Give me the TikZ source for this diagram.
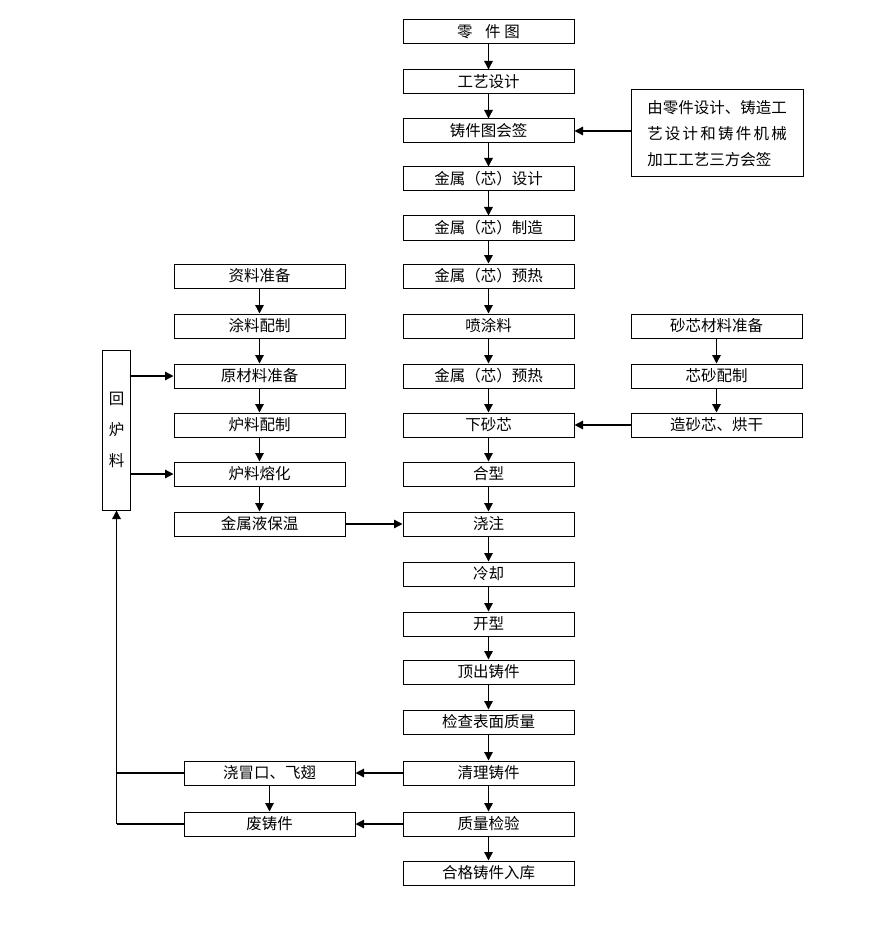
\documentclass[tikz,border=0pt]{standalone}
\usepackage{fontspec}
\newfontfamily\cjk{Noto Sans CJK SC}
\usetikzlibrary{arrows.meta}

\begin{document}
\begin{tikzpicture}[x=1pt,y=-1pt,
    box/.style={draw, line width=1pt, minimum width=171pt, minimum height=24pt, inner sep=0pt,
      font=\cjk\fontsize{15.5}{18}\selectfont},
    arr/.style={line width=1.3pt, -{Triangle[length=8.5pt,width=8.5pt]}},
    ln/.style={line width=1.3pt}]

        \useasboundingbox (0,0) rectangle (873,925);

        % main column
        \node[box] (m1) at (488.5,32) {零\hspace{0.8em}件\hspace{0.25em}图};
        \node[box] (m2) at (488.5,82) {工艺设计};
        \node[box] (m3) at (488.5,131) {铸件图会签};
        \node[box] (m4) at (488.5,179) {金属（芯）设计};
        \node[box] (m5) at (488.5,228) {金属（芯）制造};
        \node[box] (m6) at (488.5,276) {金属（芯）预热};
        \node[box] (m7) at (488.5,326) {喷涂料};
        \node[box] (m8) at (488.5,376) {金属（芯）预热};
        \node[box] (m9) at (488.5,425) {下砂芯};
        \node[box] (m10) at (488.5,474) {合型};
        \node[box] (m11) at (488.5,524) {浇注};
        \node[box] (m12) at (488.5,574) {冷却};
        \node[box] (m13) at (488.5,624) {开型};
        \node[box] (m14) at (488.5,672) {顶出铸件};
        \node[box] (m15) at (488.5,722) {检查表面质量};
        \node[box] (m16) at (488.5,773) {清理铸件};
        \node[box] (m17) at (488.5,824) {质量检验};
        \node[box] (m18) at (488.5,873) {合格铸件入库};
        \foreach \i [evaluate=\i as \j using int(\i+1)] in {1,...,17}
            \draw[arr] (m\i) -- (m\j);

        % sign-off note
        \node[draw, line width=1pt, minimum width=172pt, minimum height=87pt, inner sep=0pt,
          font=\cjk\fontsize{15.5}{26}\selectfont, align=left] (note) at (717,133.5)
          {由零件设计、铸造工\\\makebox[9em][s]{艺\hfil 设\hfil 计\hfil 和\hfil 铸\hfil 件\hfil 机\hfil 械}\\加工工艺三方会签};
        \draw[arr] (note.west |- m3) -- (m3.east);

        % left column
        \node[box] (l1) at (259.5,276) {资料准备};
        \node[box] (l2) at (259.5,326) {涂料配制};
        \node[box] (l3) at (259.5,376) {原材料准备};
        \node[box] (l4) at (259.5,425) {炉料配制};
        \node[box] (l5) at (259.5,474) {炉料熔化};
        \node[box] (l6) at (259.5,524) {金属液保温};
        \foreach \i [evaluate=\i as \j using int(\i+1)] in {1,...,5}
            \draw[arr] (l\i) -- (l\j);
        \draw[arr] (l6.east) -- (m11.west);

        % sand core column
        \node[box] (r1) at (716.5,326) {砂芯材料准备};
        \node[box] (r2) at (716.5,376) {芯砂配制};
        \node[box] (r3) at (716.5,425) {造砂芯、烘干};
        \draw[arr] (r1) -- (r2);
        \draw[arr] (r2) -- (r3);
        \draw[arr] (r3.west) -- (m9.east);

        % return material
        \node[draw, line width=1pt, minimum width=28pt, minimum height=160pt, inner sep=0pt,
          font=\cjk\fontsize{15.5}{31}\selectfont, align=center] (back) at (116.5,430) {回\\炉\\料};
        \draw[arr] (back.east |- l3) -- (l3.west);
        \draw[arr] (back.east |- l5) -- (l5.west);

        % scrap
        \node[box] (s1) at (269.5,773) {浇冒口、飞翅};
        \node[box] (s2) at (269.5,824) {废铸件};
        \draw[arr] (m16.west) -- (s1.east);
        \draw[arr] (m17.west) -- (s2.east);
        \draw[arr] (s1) -- (s2);
        \coordinate (turn) at (back.south |- s2);
        \draw[ln] (s2.west) -- (turn);
        \draw[ln] (s1.west) -- (back.south |- s1);
        \draw[arr] (turn) -- (back.south);
    \end{tikzpicture}
\end{document}
